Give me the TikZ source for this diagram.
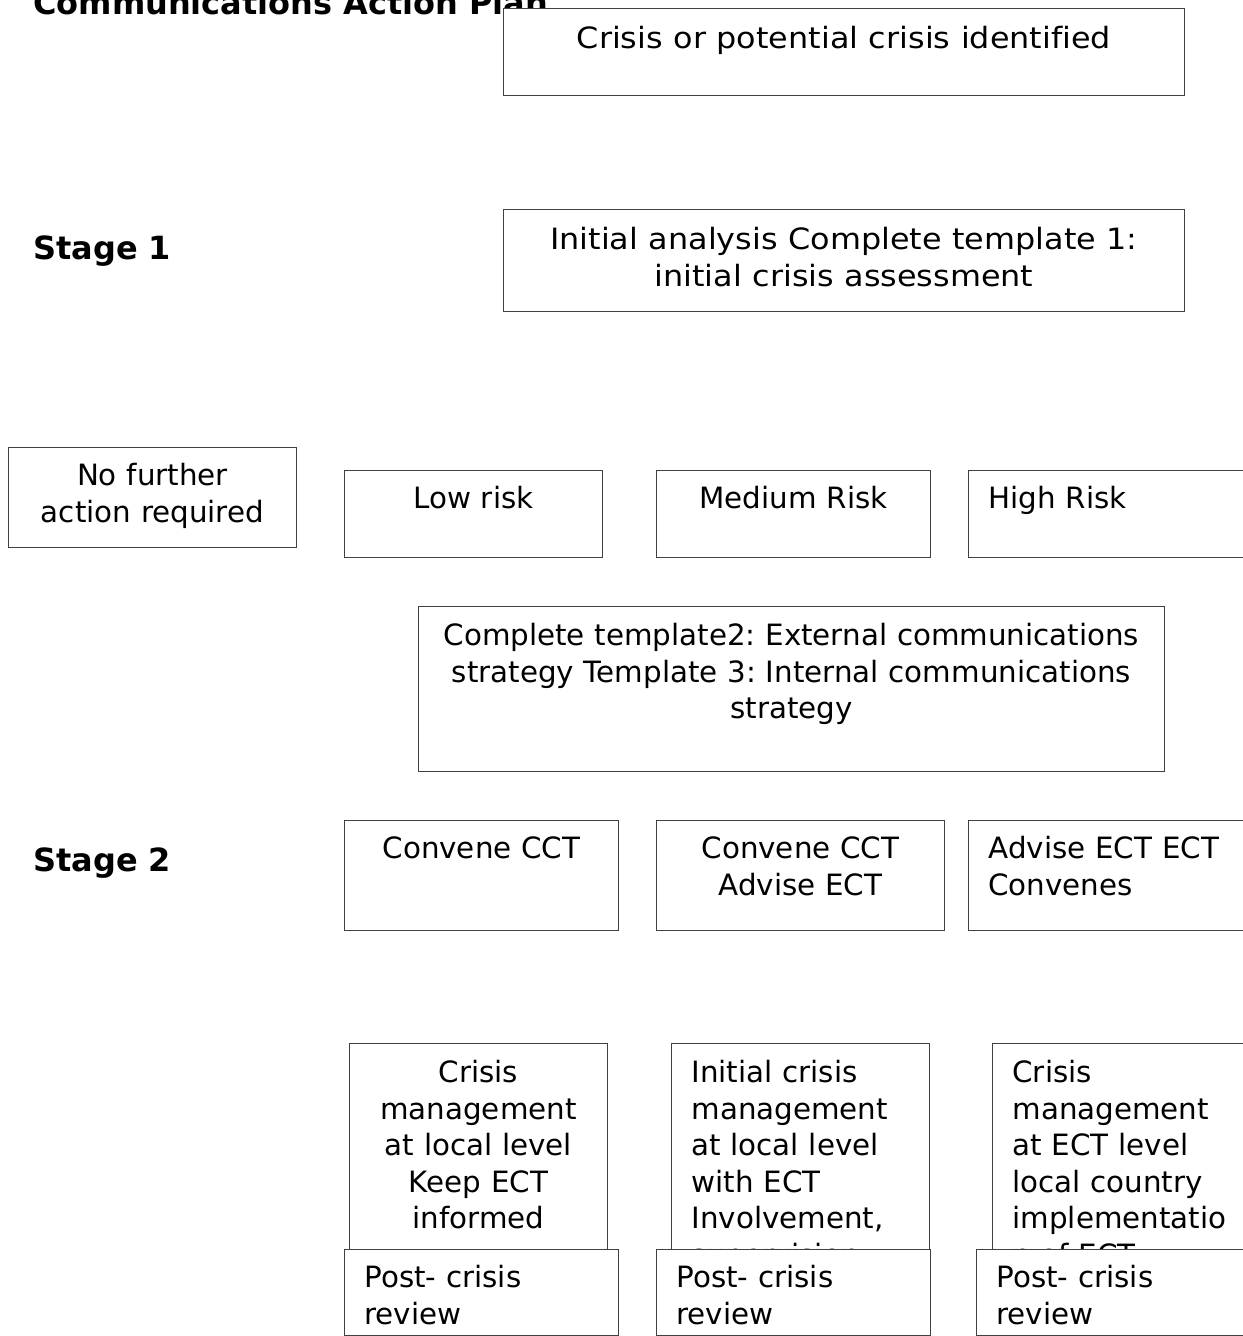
\documentclass[tikz,border=0pt]{standalone}
\usepackage{fontspec}
\usepackage{graphicx}
\setmainfont{DejaVu Sans}[Ligatures=NoCommon]
\usetikzlibrary{positioning}
\frenchspacing
\newcommand{\wide}[1]{\scalebox{1.085}[1]{#1}}

\begin{document}
\begin{tikzpicture}[x=0.02cm,y=-0.02cm,
  plan box/.style={draw=black!75,line width=0.55pt,fill=white,rectangle,anchor=north west,
    inner ysep=0pt,inner xsep=0.2cm,font=\fontsize{16.7pt}{20.8pt}\selectfont},
  mid box/.style={plan box,align=center},
  left box/.style={plan box,align=left,inner xsep=0.4cm},
  stage label/.style={anchor=base west,inner sep=0pt,font=\bfseries\fontsize{18.2pt}{21pt}\selectfont}]
   \useasboundingbox (0,0) rectangle (1243,1336);
   \clip (0,0) rectangle (1243,1336);
   \node[stage label] (title) at (33,14) {Communications Action Plan};
   \node[stage label] (stage_1) at (33,259) {Stage 1};
   \node[stage label] (stage_2) at (33,871) {Stage 2};
   % top of the plan
   \node[mid box,text width=13.22cm,text height=0.8cm,text depth=0.94cm] (crisis) at (503,8)
     {\wide{Crisis or potential crisis identified}};
   \node[mid box,text width=13.22cm,text height=0.8cm,text depth=1.24cm] (analysis) at (503,209)
     {\wide{Initial analysis Complete template 1:}\\ \wide{initial crisis assessment}};
   % risk levels
   \node[mid box,text width=5.36cm,text height=0.76cm,text depth=1.24cm] (no_action) at (8,447)
     {No further\\ action required};
   \node[mid box,text width=4.76cm,text height=0.76cm,text depth=0.98cm] (low) at (344,470) {Low risk};
   \node[mid box,text width=5.08cm,text height=0.76cm,text depth=0.98cm] (medium) at (656,470) {Medium Risk};
   \node[left box,text width=5.04cm,text height=0.76cm,text depth=0.98cm] (high) at (968,470) {High Risk};
   \node[mid box,text width=14.52cm,text height=0.78cm,text depth=2.52cm] (templates) at (418,606)
     {Complete template2: External communications\\ strategy Template 3: Internal communications\\ strategy};
   % stage 2
   \node[mid box,text width=5.08cm,text height=0.76cm,text depth=1.44cm] (cct) at (344,820) {Convene CCT};
   \node[mid box,text width=5.36cm,text height=0.76cm,text depth=1.44cm] (cct_ect) at (656,820)
     {Convene CCT\\ Advise ECT};
   \node[left box,text width=5.04cm,text height=0.76cm,text depth=1.44cm] (ect) at (968,820)
     {Advise ECT ECT\\ Convenes};
   % crisis management
   \node[mid box,text width=4.76cm,text height=0.78cm,text depth=4.36cm] (m_local) at (349,1043)
     {Crisis\\ management\\ at local level\\ Keep ECT\\ informed};
   \node[left box,text width=4.36cm,text height=0.78cm,text depth=4.36cm] (m_init) at (671,1043)
     {Initial crisis\\ management\\ at local level\\ with ECT\\ Involvement,\\ supervision};
   \node[left box,text width=4.56cm,text height=0.78cm,text depth=4.36cm] (m_ect) at (992,1043)
     {Crisis\\ management\\ at ECT level\\ local country\\ implementatio\\ n of ECT};
   % reviews
   \node[left box,text width=4.68cm,text height=0.76cm,text depth=0.96cm] (post_1) at (344,1249)
     {Post- crisis\\ review};
   \node[left box,text width=4.68cm,text height=0.76cm,text depth=0.96cm] (post_2) at (656,1249)
     {Post- crisis\\ review};
   \node[left box,text width=4.88cm,text height=0.76cm,text depth=0.96cm] (post_3) at (976,1249)
     {Post- crisis\\ review};
\end{tikzpicture}
\end{document}
